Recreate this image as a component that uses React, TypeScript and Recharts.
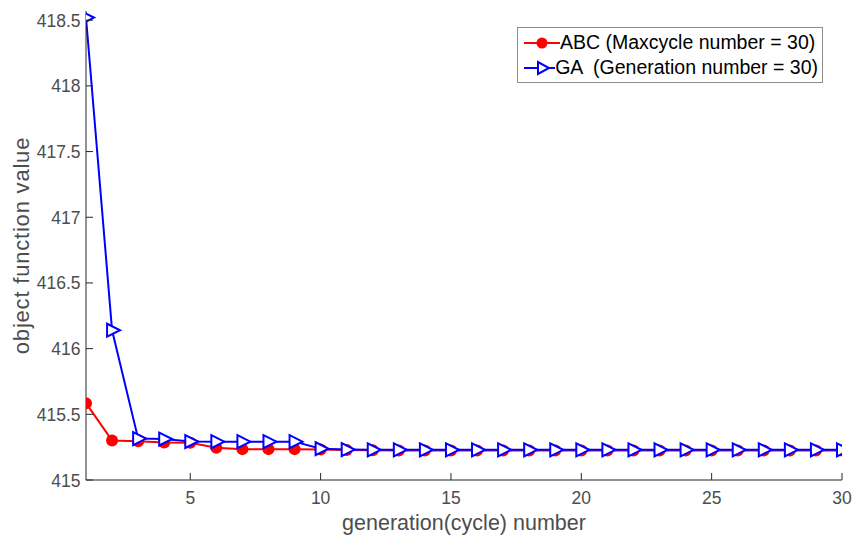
import React from 'react';
import { LineChart, Line, XAxis, YAxis } from 'recharts';

const cycles = [
  1, 2, 3, 4, 5, 6, 7, 8, 9, 10, 11, 12, 13, 14, 15, 16, 17, 18, 19, 20, 21, 22, 23, 24, 25, 26, 27, 28, 29, 30,
];
const abcValues = [
  415.585, 415.3, 415.295, 415.285, 415.283, 415.245, 415.235, 415.235, 415.235, 415.232, 415.228, 415.226,
  415.225, 415.225, 415.225, 415.225, 415.225, 415.225, 415.225, 415.225, 415.225, 415.225, 415.225, 415.225,
  415.225, 415.225, 415.225, 415.225, 415.225, 415.225,
];
const gaValues = [
  418.52, 416.14, 415.315, 415.312, 415.293, 415.292, 415.292, 415.292, 415.292, 415.238, 415.232, 415.23,
  415.23, 415.23, 415.23, 415.23, 415.23, 415.23, 415.23, 415.23, 415.23, 415.23, 415.23, 415.23,
  415.23, 415.23, 415.23, 415.23, 415.23, 415.23,
];
const xTicks = [5, 10, 15, 20, 25, 30];
const yTicks = [415, 415.5, 416, 416.5, 417, 417.5, 418, 418.5];

const data = cycles.map((c, i) => ({ cycle: c, abc: abcValues[i], ga: gaValues[i] }));

const FONT = '"Liberation Sans", Arial, sans-serif';
const AXIS = '#262626';
const TICK_TEXT = '#4d4d4d';
const TICK_LEN = 7;
const X_MARGIN = 17;
const Y_MARGIN = 7;

// MATLAB style: tick marks point into the plot box
const BottomTick = (props: any) => {
  const { x, y, payload } = props;
  const axisY = y - X_MARGIN;
  return (
    <g>
      <line x1={x} y1={axisY} x2={x} y2={axisY - TICK_LEN} stroke={AXIS} />
      <text x={x} y={axisY + 24} textAnchor="middle" fill={TICK_TEXT} fontSize={17.5} fontFamily={FONT}>
        {payload.value}
      </text>
    </g>
  );
};

const LeftTick = (props: any) => {
  const { x, y, payload } = props;
  const axisX = x + Y_MARGIN;
  return (
    <g>
      <line x1={axisX} y1={y} x2={axisX + TICK_LEN} y2={y} stroke={AXIS} />
      <text x={x + 1.5} y={y + 6.5} textAnchor="end" fill={TICK_TEXT} fontSize={17.5} fontFamily={FONT}>
        {payload.value}
      </text>
    </g>
  );
};

const TopTick = (props: any) => {
  const { x, y } = props;
  return <line x1={x} y1={y} x2={x} y2={y + TICK_LEN} stroke={AXIS} />;
};

const RightTick = (props: any) => {
  const { x, y } = props;
  return <line x1={x} y1={y} x2={x - TICK_LEN} y2={y} stroke={AXIS} />;
};

const Triangle = (props: any) => {
  const { cx, cy } = props;
  if (cx == null || cy == null) return null;
  return (
    <polygon
      points={`${cx - 5},${cy - 6.5} ${cx - 5},${cy + 6.5} ${cx + 8},${cy}`}
      fill="#ffffff"
      stroke="#0000ff"
      strokeWidth={2}
    />
  );
};

const LegendBox = () => (
  <div
    style={{
      position: 'absolute',
      left: 517,
      top: 27,
      boxSizing: 'border-box',
      width: 306,
      height: 56,
      border: '1px solid #8c8c8c',
      background: '#fff',
      padding: '2px 4px',
      fontFamily: FONT,
      fontSize: 19.5,
      color: '#000',
      lineHeight: '25px',
    }}
  >
    <div style={{ display: 'flex', alignItems: 'center' }}>
      <svg width={38} height={16}>
        <line x1={2} y1={8} x2={38} y2={8} stroke="#ff0000" strokeWidth={2} />
        <circle cx={20} cy={8} r={5.5} fill="#ff0000" />
      </svg>
      <span>ABC (Maxcycle number = 30)</span>
    </div>
    <div style={{ display: 'flex', alignItems: 'center' }}>
      <svg width={38} height={16}>
        <line x1={2} y1={8} x2={38} y2={8} stroke="#0000ff" strokeWidth={2} />
        <polygon points="16,2 16,14 27,8" fill="#fff" stroke="#0000ff" strokeWidth={2} />
      </svg>
      <span style={{ whiteSpace: 'pre' }}>GA  (Generation number = 30)</span>
    </div>
  </div>
);

export default function App() {
  return (
    <div style={{ position: 'absolute', left: 0, top: 0, width: 853, height: 538, background: '#fff' }}>
      <LineChart width={853} height={538} data={data} margin={{ top: 11, right: 11, bottom: 28, left: 0 }}>
        <XAxis
          dataKey="cycle"
          type="number"
          domain={[1, 30]}
          ticks={xTicks}
          allowDataOverflow
          stroke={AXIS}
          tickLine={false}
          tickSize={0}
          tickMargin={X_MARGIN}
          height={30}
          tick={<BottomTick />}
          label={{
            value: 'generation(cycle) number',
            position: 'bottom',
            offset: 5,
            style: { fill: TICK_TEXT, fontSize: 21.5, fontFamily: FONT, textAnchor: 'middle' },
          }}
        />
        <XAxis
          xAxisId="top"
          dataKey="cycle"
          type="number"
          orientation="top"
          domain={[1, 30]}
          ticks={xTicks}
          allowDataOverflow
          stroke={AXIS}
          tickLine={false}
          tickSize={0}
          tickMargin={0}
          height={0}
          tick={<TopTick />}
        />
        <YAxis
          type="number"
          domain={[415, 418.57]}
          ticks={yTicks}
          allowDataOverflow
          stroke={AXIS}
          tickLine={false}
          tickSize={0}
          tickMargin={Y_MARGIN}
          width={86}
          tick={<LeftTick />}
          label={{
            value: 'object function value',
            angle: -90,
            position: 'insideLeft',
            offset: 21,
            style: { fill: TICK_TEXT, fontSize: 22, fontFamily: FONT, textAnchor: 'middle', letterSpacing: 0.8 },
          }}
        />
        <YAxis
          yAxisId="right"
          type="number"
          orientation="right"
          domain={[415, 418.57]}
          ticks={yTicks}
          allowDataOverflow
          stroke={AXIS}
          tickLine={false}
          tickSize={0}
          tickMargin={0}
          width={0}
          tick={<RightTick />}
        />
        <Line
          dataKey="abc"
          name="ABC (Maxcycle number = 30)"
          stroke="#ff0000"
          strokeWidth={2}
          dot={{ r: 6, fill: '#ff0000', stroke: 'none' }}
          isAnimationActive={false}
        />
        <Line
          dataKey="ga"
          name="GA  (Generation number = 30)"
          stroke="#0000ff"
          strokeWidth={2}
          dot={<Triangle />}
          isAnimationActive={false}
        />
      </LineChart>
      <LegendBox />
    </div>
  );
}
